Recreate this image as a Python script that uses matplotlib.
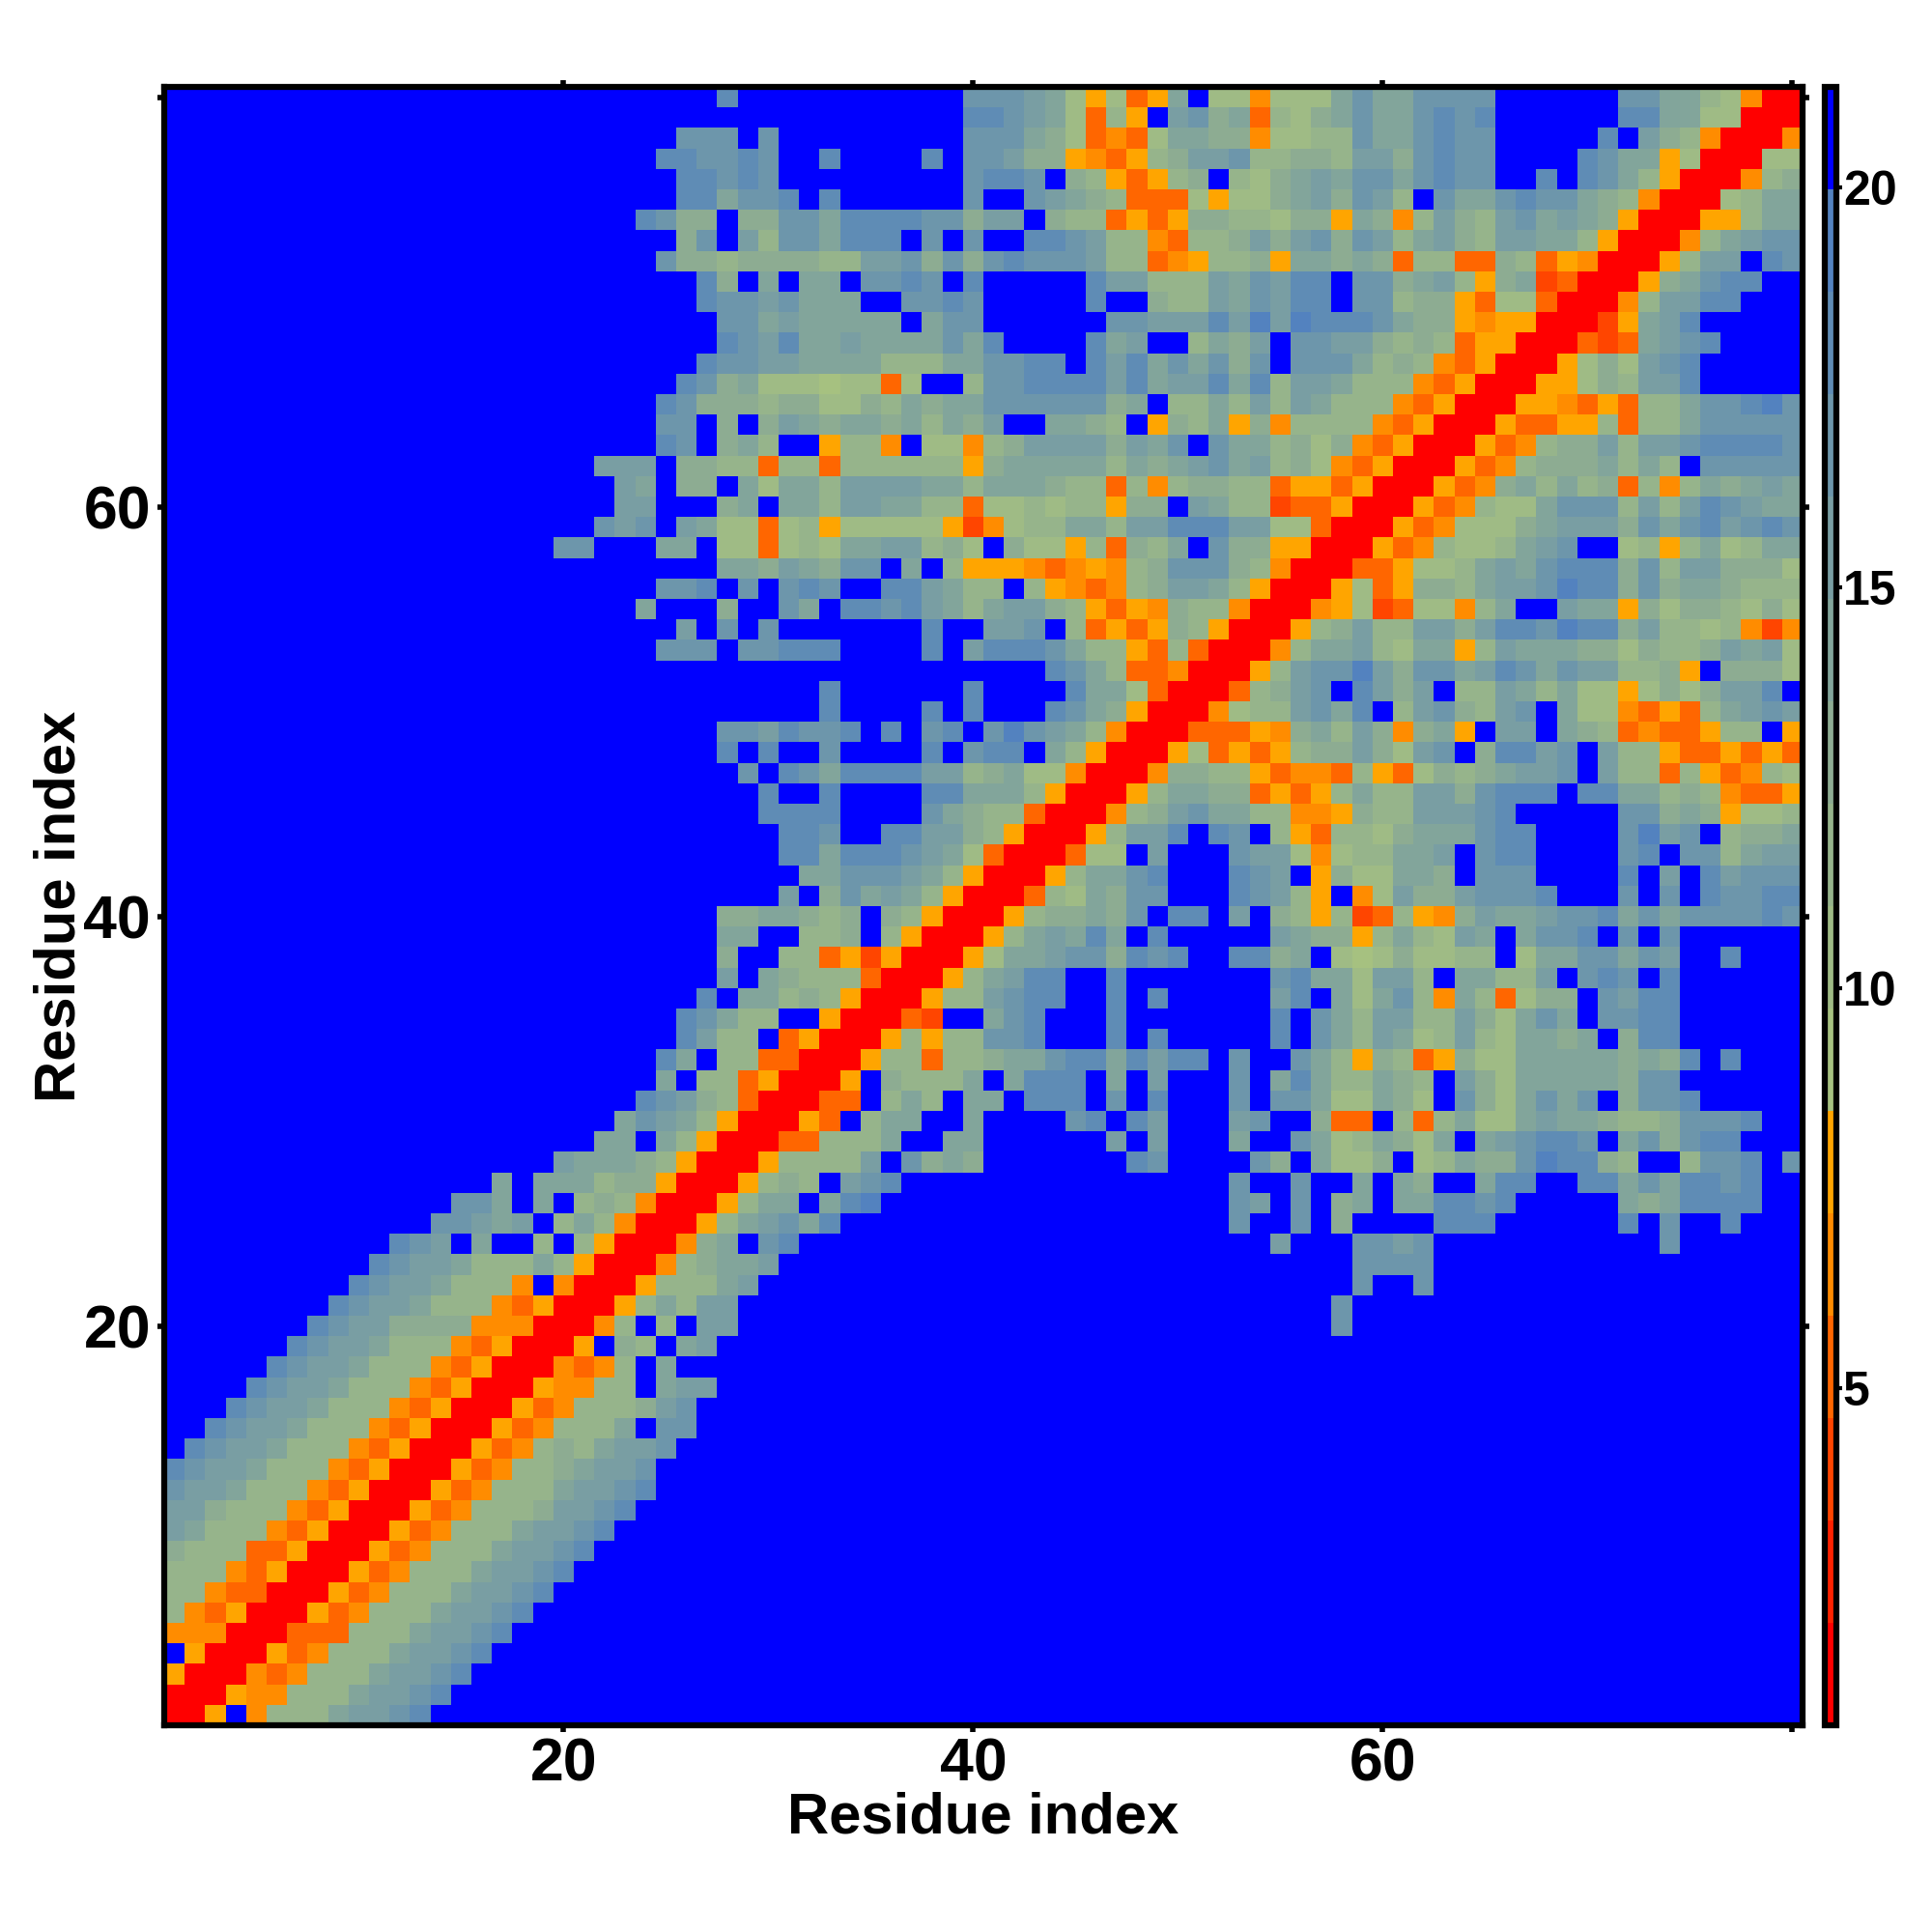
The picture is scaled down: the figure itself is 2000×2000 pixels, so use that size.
import numpy as np
import matplotlib
matplotlib.use("Agg")
import matplotlib.pyplot as plt
from matplotlib.colors import ListedColormap, BoundaryNorm

plt.rcParams['font.family'] = ['Liberation Sans', 'DejaVu Sans']
plt.rcParams['font.weight'] = 'bold'

# distance map, one hex digit per cell = colour bin (0 red ... f blue), top row first
dist_rows = [
    "ffffffffff ffffffffff fffffffdff fffffffffc ccba75735a f774777aca accccfffff fccaa87400",
    "ffffffffff ffffffffff ffffffffff fffffffffd dcba7385fb c9a3879aca acdcdfffff fddaa77000",
    "ffffffffff ffffffffff fffffcccfc fffffffffc cca973437a a9947788ca acdccfffff dfb9840004",
    "ffffffffff ffffffffff ffffddccdc ffdffffdfc cb99543589 bbc88998bb 9cdccffffd caa5700077",
    "ffffffffff ffffffffff fffffddcdc fffffffffc ddcf985358 9f879abacc acdccffdfd ca85000489",
    "ffffffffff ffffffffff fffffddacc dfdffffffc ffcba98333 75779ab9cb 8fcaacdcca 98400078aa",
    "ffffffffff ffffffffff fffdc99f99 ccaddddcc9 bbf9883535 99887995a9 48b98bcaba 95000558aa",
    "ffffffffff ffffffffff fffff9cfb8 ccadddfcfc ffddcb8843 889b9bc9cb 8ab98bbaa8 500048abcc",
    "ffffffffff ffffffffff ffffc99899 9988bbc9c9 cdcccb8834 58895aa9a9 3883398354 00058bbfdc",
    "ffffffffff ffffffffff ffffffd9fa faafccdcfd fffffdbb88 8bacbddfcc 9ab859a230 0059acddff",
    "ffffffffff ffffffffff ffffffdccb caaaffccdc fffffdff98 8bacbddfcc 8995377300 048bbddfff",
    "ffffffffff ffffffffff fffffffcca baaaaafacc ffffffccbb bdbebedddc a995455000 25abdfffff",
    "ffffffffff ffffffffff fffffffdcb daabaaaaca dffffdabff 8a9bfccbb9 8983550003 23abcdffff",
    "ffffffffff ffffffffff ffffffdccb baaaa888aa ccddfdbdac ac9cfccca8 9843500057 97bcdfffff",
    "ffffffffff ffffffffff fffffdc9a7 7767737ff8 ccddddbdab bdad8bba88 8435000557 98bbdfffff",
    "ffffffffff ffffffffff ffffdc9998 997798a9aa cccccc9af8 8a8b8ba888 4350005543 5388accdec",
    "ffffffffff ffffffffff ffffccf9f9 ba9aa9a8a9 bffaa98f59 8a59488884 3500053355 8388accccc",
    "ffffffffff ffffffffff ffffdcf9a8 ff5884f774 89bbbb9bac fcaa897943 5000534899 b8bbcddddc",
    "ffffffffff ffffffffff fbbbf99883 8838888885 9aaaaa8a9a bcab897435 0005348999 a8a8fccccc",
    "ffffffffff ffffffffff ffbaf99fa7 aa8bbbbaa8 aaa9883848 9988355350 005349a8a8 93848a9aba",
    "ffffffffff ffffffffff ffbbfff9af aa8bbaa883 778788599f ba88233500 0534877acc c8b8bdcbaa",
    "ffffffffff ffffffffff fcbcfba773 7857777752 4788aa8bbd ddbb773000 5347779abb b9cacdbcdc",
    "ffffffffff fffffffffc cfffaaf773 787aabb897 f97758398a fc99550005 348778abcf f7858a78aa",
    "ffffffffff ffffffffff fffffffaa9 ba9ccfaf85 554345489c cc98400033 5778abacdd d9c8bb9997",
    "ffffffffff ffffffffff ffffccdfcf cdcffddba8 8f8543489b ba85000573 5998abbced d9c9aa9888",
    "ffffffffff ffffffffff fffafff9ff cafddcdba8 abb9853549 8840004572 37748affba a597998797",
    "ffffffffff ffffffffff fffffbfcfc fffffffdff bbcf835359 85000589b8 8bb9bddced d9b8878424",
    "ffffffffff ffffffffff ffffcccfcc dddffffdfb dddca88538 300048aab8 7aa58baaa9 979889bab7",
    "ffffffffff ffffffffff ffffffffff ffffffffff fffdca8334 00058bcceb 9ccabdcacb b8895f9997",
    "ffffffffff ffffffffff ffffffffff ffdffffffd ffffdaa730 00389bcfdb 9bf88ba8a7 757979bbdf",
    "ffffffffff ffffffffff ffffffffff ffdffffdfd fffdca9500 04788bcadf 8bc98bcfa7 743538abcb",
    "ffffffffff ffffffffff fffffffccb dccdfdfcdf cecba84000 333549a8b9 49a5fbbfa9 83433588f5",
    "ffffffffff ffffffffff fffffffdfd ffcffffdfc ddfa850005 73535899b9 7bcf9ddbcf b885335353",
    "ffffffffff ffffffffff ffffffffcf dcaddddbb8 9a77400049 9885344385 37989abbcf b883853487",
    "ffffffffff ffffffffff fffffffffd ffdffffdda aa8500058a a9935358a8 8bb9cdddfd daa8984335",
    "ffffffffff ffffffffff fffffffffd dddffffca9 883000489b caa8844598 8bbbcdffff fcc9a95778",
    "ffffffffff ffffffffff ffffffffff ddcffddbb9 8500058bbd fdcf853887 9aaacddfff fcebcf899a",
    "ffffffffff ffffffffff ffffffffff ddadddcba7 3000377fbf ffcbb74788 aabfcddfff fcdfcc8abb",
    "ffffffffff ffffffffff ffffffffff faacccba85 00058aacdf ffdcbf5977 aa9fcccfff fdfbfdbccc",
    "ffffffffff ffffffffff ffffffffff bf9caba850 00387a9ccf ffdcb85f47 b99bcccdff fcfcfdccdd",
    "ffffffffff ffffffffff fffffff99a a989f98500 05899a9cfd dfbf985823 8549baabcc dacaccccdc",
    "ffffffffff ffffffffff fffffffaaf f889f85000 58abadafdf ffffba9958 a87bafaccd fcfcffffff",
    "ffffffffff ffffffffff fffffff9ff 8835250005 7aabcc9dcd ffdd9af767 97788f7aac cacbffdfff",
    "ffffffffff ffffffffff fffffffbfa 9888300058 abddffdfff ffffcdaa7b b8faa88bfc dcfdffffff",
    "ffffffffff ffffffffff ffffffdfaa 8985000588 bcddffdfdf ffffbdfa7a c84a83799f cbddffffff",
    "ffffffffff ffffffffff fffffdca88 ff500032ff acdfffdfff ffffdfca8b b88b97acaf ccddffffff",
    "ffffffffff ffffffffff fffffdb88f 3500058588 ccdfffdfdf ffffdfca8b a78b87aa9a f9ddffffff",
    "ffffffffff ffffffffff ffffdaf883 3000588388 9aacddadbd dfcffca859 835977aaaa a9a9dfdfff",
    "ffffffffff ffffffffff ffffaf8835 0005f9888a fadddfafbf ffcfada88a 98fb97aaaa a9ccffffff",
    "ffffffffff ffffffffff fffdcb9830 0033f8a8fa afdddfcfdf ffcfcca77a 97fc97acac f9ccdfffff",
    "ffffffffff ffffffffff ffacba8500 053f8aaffa ffffcdfdbf ffbcff933f 838a77abaa 9889cccdff",
    "ffffffffff ffffffffff faafa85000 33888affaa ffffffbfbf ffaffca78a 97afabcddc fac9cddfff",
    "ffffffffff fffffffffb aaa9850005 8888bfc9a9 fffffffdcf fffc9fa779 f78a99cedd 98ff8ccdfc",
    "ffffffffff ffffffafaa a899500058 98fbcdffff ffffffffff ffcffcffaf a9ffaddffd dacaddcdff",
    "ffffffffff ffffccafaf 898400058a afadefffff ffffffffff ffcbfcf9af aaddcdffff fa9addddff",
    "ffffffffff fffccbabf8 a8400058ab cadfffffff ffffffffff ffcffcf9ff ffdddfffff fdfcffdfff",
    "ffffffffff fdcbfaff8f 8500049afc dfffffffff ffffffffff ffffbfffcc bcffffffff fffcffffff",
    "ffffffffff dcbba888a8 5000489aab ffffffffff ffffffffff ffffffffcc ccffffffff ffffffffff",
    "fffffffffd cbba8884f4 0005888abf ffffffffff ffffffffff ffffffffcf fcffffffff ffffffffff",
    "ffffffffdc bba8884350 0058a8bbff ffffffffff ffffffffff fffffffcff ffffffffff ffffffffff",
    "fffffffdcb b999944400 048f8fbbff ffffffffff ffffffffff fffffffcff ffffffffff ffffffffff",
    "ffffffdcbb a888435000 5f98fabfff ffffffffff ffffffffff ffffffffff ffffffffff ffffffffff",
    "fffffdcbba 8884350004 348fafffff ffffffffff ffffffffff ffffffffff ffffffffff ffffffffff",
    "ffffdcbba8 8843500054 488fabbfff ffffffffff ffffffffff ffffffffff ffffffffff ffffffffff",
    "fffdcbba88 8435000534 8889bcffff ffffffffff ffffffffff ffffffffff ffffffffff ffffffffff",
    "ffdcbba888 4350005348 88afccffff ffffffffff ffffffffff ffffffffff ffffffffff ffffffffff",
    "fdcbba8884 3500053489 8abbcfffff ffffffffff ffffffffff ffffffffff ffffffffff ffffffffff",
    "dcbba88843 5000534889 abbcffffff ffffffffff ffffffffff ffffffffff ffffffffff ffffffffff",
    "cbba888435 000534888a bbcdffffff ffffffffff ffffffffff ffffffffff ffffffffff ffffffffff",
    "bb98884350 005348889b bcdfffffff ffffffffff ffffffffff ffffffffff ffffffffff ffffffffff",
    "ba88843500 0534888abb cdffffffff ffffffffff ffffffffff ffffffffff ffffffffff ffffffffff",
    "9888335000 534888abbc dfffffffff ffffffffff ffffffffff ffffffffff ffffffffff ffffffffff",
    "8884350005 34888abbcd ffffffffff ffffffffff ffffffffff ffffffffff ffffffffff ffffffffff",
    "8843300053 4888abbcdf ffffffffff ffffffffff ffffffffff ffffffffff ffffffffff ffffffffff",
    "8435000534 888abbcdff ffffffffff ffffffffff ffffffffff ffffffffff ffffffffff ffffffffff",
    "4440003338 88abbcdfff ffffffffff ffffffffff ffffffffff ffffffffff ffffffffff ffffffffff",
    "f500053488 8abbcdffff ffffffffff ffffffffff ffffffffff ffffffffff ffffffffff ffffffffff",
    "5000434888 abbcdfffff ffffffffff ffffffffff ffffffffff ffffffffff ffffffffff ffffffffff",
    "000544888a bbcdffffff ffffffffff ffffffffff ffffffffff ffffffffff ffffffffff ffffffffff",
    "005f4888ab bcdfffffff ffffffffff ffffffffff ffffffffff ffffffffff ffffffffff ffffffffff",
]

level_colors = ["#ff0000", "#ff2200", "#ff4500", "#ff6600", "#ff8c00", "#ffa500",
                "#a6c180", "#9fbb85", "#96b48b", "#8dac92", "#82a59b", "#799ea3",
                "#6d96ab", "#5f8cb5", "#5382bf", "#0000ff"]
dist_min = 0.79
dist_step = 1.279
axis_ticks = [20, 40, 60, 80]
axis_labels = ["20", "40", "60", ""]
cbar_ticks = [5, 10, 15, 20]

levels = []
for row in dist_rows:
    cells = row.replace(" ", "")
    if len(cells) != 80:
        print("bad row", len(levels), len(cells))
    levels.append([int(ch, 16) for ch in cells])
levels = np.array(levels[::-1])
dist = dist_min + (levels + 0.5) * dist_step

bounds = dist_min + np.arange(len(level_colors) + 1) * dist_step
cmap = ListedColormap(level_colors)
norm = BoundaryNorm(bounds, cmap.N)

fig = plt.figure(figsize=(20, 20), dpi=100)
ax = fig.add_axes([170 / 2000, 1 - 1786 / 2000, 1696 / 2000, 1696 / 2000])
cax = fig.add_axes([1889 / 2000, 1 - 1786 / 2000, 12 / 2000, 1696 / 2000])

edges = np.arange(0.5, 81.5)
mesh = ax.pcolormesh(edges, edges, dist, cmap=cmap, norm=norm)

ax.set_xticks(axis_ticks)
ax.set_xticklabels(axis_labels)
ax.set_yticks(axis_ticks)
ax.set_yticklabels(axis_labels)
ax.tick_params(axis='both', which='major', direction='out', length=5, width=4,
               labelsize=45, top=True, right=True)
ax.tick_params(axis='x', pad=3)
ax.tick_params(axis='y', pad=5)
for side in ax.spines.values():
    side.set_linewidth(4.5)

ax.set_xlabel("Residue index", fontsize=43, fontweight='bold')
ax.set_ylabel("Residue index", fontsize=43, fontweight='bold')
ax.xaxis.set_label_coords(0.5, -0.0565)
ax.yaxis.set_label_coords(-0.0635, 0.5)
ax.xaxis.label.set_verticalalignment('center')
ax.yaxis.label.set_verticalalignment('center')

cbar = fig.colorbar(mesh, cax=cax, spacing='proportional', ticks=cbar_ticks, drawedges=False)
cbar.outline.set_linewidth(4.5)
cbar.ax.tick_params(length=4, width=3, labelsize=36, pad=1)
cbar.ax.minorticks_off()

fig.savefig("out.png", dpi=100)
